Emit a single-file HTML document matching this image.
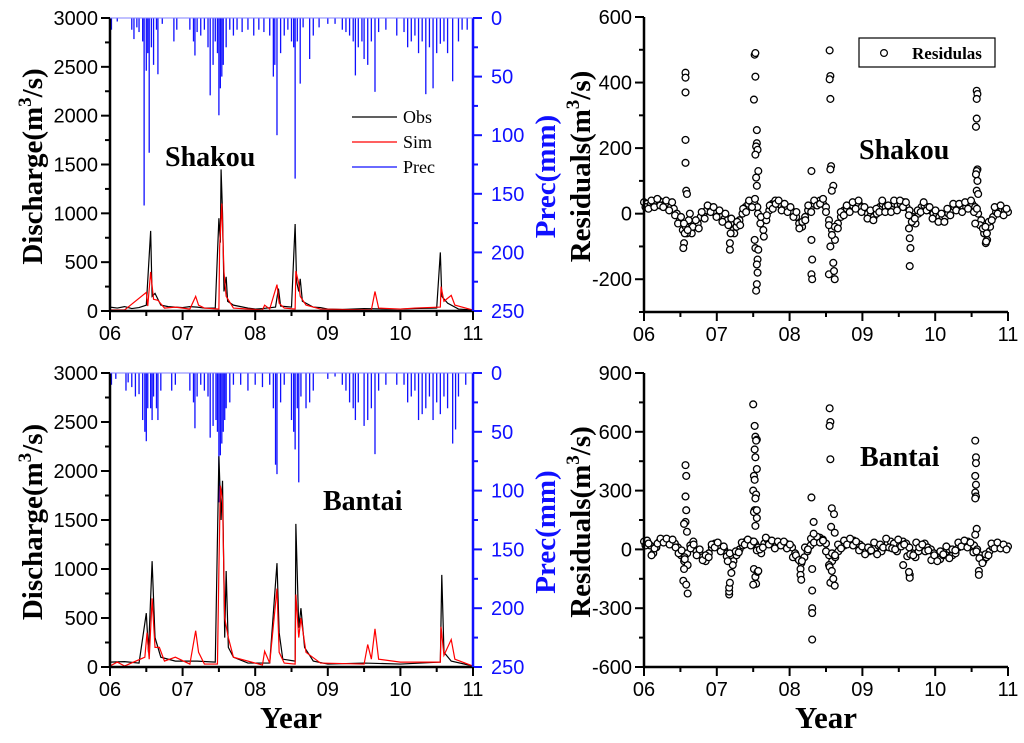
<!DOCTYPE html>
<html><head><meta charset="utf-8"><style>
html,body{margin:0;padding:0;background:#fff;}
svg{display:block;}
.tk{font-family:"Liberation Sans",sans-serif;font-size:20px;}
.ti{font-family:"Liberation Serif",serif;font-weight:bold;}
</style></head><body>
<svg id="fig" width="1024" height="743" viewBox="0 0 1024 743" xmlns="http://www.w3.org/2000/svg"></svg>
<script>
const years = ["06","07","08","09","10","11"];
const qTicks = [0,500,1000,1500,2000,2500,3000];
const pTicks = [0,50,100,150,200,250];
const rTicksTop = [-200,0,200,400,600];
const rTicksBot = [-600,-300,0,300,600,900];

const shakouObsT = [0,0.1,0.2,0.3,0.4,0.5,0.56,0.58,0.62,0.7,0.8,0.9,1.0,1.1,1.2,1.3,1.45,1.5,1.52,1.53,1.55,1.57,1.6,1.62,1.7,1.8,1.9,2.0,2.1,2.28,2.32,2.35,2.5,2.55,2.57,2.6,2.62,2.65,2.8,2.9,3.0,3.2,3.5,3.8,4.0,4.2,4.5,4.55,4.57,4.65,4.8,5];
const shakouObsQ = [40,30,45,25,35,60,820,150,180,60,45,40,35,45,40,30,30,950,700,1450,1000,200,350,100,60,45,30,20,25,40,230,50,40,890,300,200,330,100,40,35,20,15,25,20,20,25,30,600,150,80,20,10];
const shakouSimT = [0,0.2,0.5,0.52,0.56,0.6,0.66,0.75,0.9,1.1,1.18,1.22,1.3,1.5,1.51,1.54,1.57,1.6,1.7,2.1,2.13,2.2,2.3,2.33,2.4,2.55,2.56,2.6,2.62,2.7,2.9,3.6,3.65,3.7,4.0,4.2,4.55,4.56,4.6,4.7,4.75,5];
const shakouSimQ = [10,10,190,50,400,120,110,30,40,20,150,60,30,20,650,1100,400,150,30,10,60,20,270,80,30,20,410,280,150,60,20,10,200,30,20,30,40,250,100,160,60,10];
const bantaiObsT = [0,0.2,0.4,0.5,0.53,0.58,0.62,0.7,0.9,1.2,1.45,1.5,1.53,1.55,1.58,1.6,1.63,1.7,1.9,2.2,2.3,2.33,2.38,2.55,2.56,2.6,2.63,2.68,2.8,3.0,3.5,4.0,4.55,4.57,4.6,4.7,5];
const bantaiObsQ = [50,55,40,550,150,1080,300,100,60,60,50,2150,1500,1900,300,980,200,100,40,40,1060,350,80,60,1460,400,600,200,60,30,40,30,50,940,150,60,10];
const bantaiSimT = [0,0.1,0.2,0.48,0.51,0.54,0.58,0.62,0.68,0.75,0.9,1.1,1.18,1.22,1.3,1.48,1.5,1.52,1.55,1.58,1.63,1.7,2.1,2.13,2.2,2.3,2.33,2.4,2.55,2.56,2.6,2.63,2.7,2.9,3.5,3.55,3.6,3.65,3.7,4.0,4.55,4.56,4.6,4.7,4.75,5];
const bantaiSimQ = [10,50,10,100,350,80,700,200,200,60,100,30,370,150,30,30,1000,1850,1700,500,300,100,20,160,40,800,150,40,30,740,300,500,150,40,30,230,80,390,80,50,50,410,120,280,80,10];

const shakouPrecT = [0.02,0.1,0.3,0.33,0.37,0.4,0.45,0.47,0.5,0.52,0.54,0.57,0.6,0.64,0.66,0.72,0.88,0.92,1.1,1.15,1.17,1.2,1.25,1.3,1.35,1.38,1.42,1.45,1.48,1.5,1.52,1.54,1.56,1.6,1.65,1.7,1.75,1.82,1.9,1.98,2.05,2.12,2.2,2.25,2.27,2.3,2.35,2.4,2.45,2.5,2.53,2.55,2.58,2.62,2.66,2.75,2.8,2.88,3.0,3.1,3.2,3.25,3.3,3.35,3.38,3.42,3.47,3.5,3.55,3.6,3.65,3.7,3.8,3.95,4.05,4.1,4.15,4.2,4.25,4.3,4.35,4.4,4.45,4.5,4.55,4.6,4.65,4.72,4.8,4.85,4.92];
const shakouPrecP = [10,3,10,18,8,12,20,160,45,30,115,25,40,10,48,5,20,10,10,20,32,12,15,10,25,66,40,20,30,83,60,50,40,25,10,15,10,12,10,15,10,12,15,50,40,100,30,15,10,20,25,137,20,56,8,35,15,8,5,5,10,12,15,20,49,25,20,35,40,20,63,12,10,15,12,25,20,15,30,20,65,25,60,30,22,20,30,54,20,10,10];
const bantaiPrecT = [0.02,0.08,0.22,0.25,0.3,0.35,0.4,0.45,0.48,0.5,0.52,0.56,0.58,0.6,0.64,0.66,0.7,0.85,0.9,1.1,1.15,1.17,1.2,1.25,1.3,1.35,1.38,1.42,1.46,1.48,1.5,1.52,1.54,1.56,1.58,1.6,1.65,1.7,1.8,1.9,2.0,2.1,2.2,2.25,2.28,2.3,2.35,2.4,2.5,2.53,2.55,2.58,2.6,2.63,2.7,2.75,2.8,3.0,3.1,3.2,3.25,3.3,3.35,3.38,3.42,3.5,3.55,3.6,3.65,3.7,3.8,3.95,4.05,4.1,4.15,4.2,4.25,4.3,4.35,4.4,4.45,4.5,4.55,4.6,4.65,4.72,4.76,4.8,4.9];
const bantaiPrecP = [10,5,15,8,12,20,18,40,50,58,30,30,40,20,30,40,15,15,10,15,25,47,20,10,15,20,55,45,40,50,110,70,60,50,40,30,25,10,10,15,10,12,10,30,78,86,25,10,40,50,65,30,93,20,30,25,15,5,3,10,15,25,30,40,25,45,40,30,69,15,10,10,10,25,20,15,40,35,30,20,40,25,35,20,30,60,48,20,10];

const shakouResidBase = [35,30,25,35,30,40,35,30,25,20,15,0,-20,-50,-40,-20,-60,-40,-30,-10,0,10,20,10,0,-5,-10,-15,-20,-30,-50,-40,-20,0,20,30,35,30,20,-30,-50,-20,10,30,40,30,25,20,15,10,5,-10,-30,-40,-10,10,20,30,35,40,30,20,-20,-50,-80,-30,-10,10,15,20,25,30,30,20,10,0,-5,-10,0,20,30,20,10,20,30,25,30,35,20,10,-10,-30,0,20,25,20,10,0,-5,-10,-15,-10,0,10,20,25,20,15,20,30,30,20,0,-20,-60,-80,-40,-10,5,10,15,10,5];
const shakouResidBase2 = [20,15,40,20,45,25,20,40,10,35,-5,-30,-10,-30,-60,0,-40,-20,-45,5,-15,25,5,20,-10,10,-25,0,-35,-15,-60,-25,-35,15,5,40,20,45,0,-10,-70,-5,25,15,30,40,10,30,5,20,-10,5,-45,-25,-20,25,5,40,25,30,45,5,-35,-65,-40,-45,5,-5,25,5,35,15,40,5,20,-15,10,-20,15,5,40,5,25,5,40,10,40,20,35,-5,-25,-15,10,5,35,10,20,-15,10,-25,0,-25,15,-5,30,10,30,5,35,15,40,5,15,-35,-45,-90,-25,-20,20,0,25,-5,15];
const shakouOutT = [0.57,0.57,0.57,0.57,0.57,0.58,0.59,0.56,0.55,0.54,0.6,1.18,1.18,1.19,1.52,1.53,1.53,1.51,1.55,1.55,1.54,1.56,1.53,1.57,1.54,1.55,1.52,1.53,1.56,1.55,1.56,1.55,1.54,1.57,2.3,2.3,2.31,2.3,2.31,2.55,2.56,2.55,2.56,2.57,2.56,2.6,2.58,2.56,2.54,2.62,2.61,2.6,3.65,3.66,3.65,3.64,4.57,4.58,4.57,4.57,4.56,4.58,4.57,4.56,4.58,4.57,4.59,4.55,4.7,4.71,4.69];
const shakouOutR = [430,415,370,225,155,70,60,-60,-90,-105,-50,-110,-90,-60,485,490,418,348,255,215,205,195,180,130,110,85,-80,-105,-140,-155,-180,-215,-235,-110,130,-80,-140,-185,-200,498,420,410,350,145,135,85,70,-100,-185,-200,-175,-150,-160,-105,-75,-45,375,365,350,290,265,135,130,120,100,70,60,-30,-85,-60,-40];
const bantaiResidBase = [40,45,20,-20,10,40,50,50,45,40,30,10,-30,-60,-20,20,40,-10,-20,-40,-60,-20,10,30,20,10,0,-20,-40,-60,-30,0,20,40,45,40,30,10,-20,30,50,40,30,20,30,35,30,20,10,-20,-50,-70,-40,-10,20,40,50,60,50,30,-30,-60,-40,-10,10,20,30,40,45,35,25,10,0,-10,-5,10,20,-10,10,30,40,30,-10,20,40,30,10,-20,-40,-10,20,30,10,0,-20,-40,-50,-30,-10,0,-30,-20,10,20,30,40,30,20,0,-30,-60,-40,-10,10,20,20,15,10,15];
const bantaiResidBase2 = [20,30,-30,5,30,55,35,55,25,50,10,-20,-5,-40,-80,5,25,-30,0,-55,-30,-40,25,10,35,-10,15,-35,-20,-80,-10,-15,35,25,50,20,40,-5,0,10,60,25,45,5,40,20,40,5,25,-40,-30,-55,-60,10,0,55,35,65,35,45,-10,-80,-20,-30,25,5,45,25,55,20,40,-5,15,-25,10,-5,35,-25,25,10,55,10,5,0,50,15,25,-35,-25,-30,35,10,25,-10,-5,-55,-30,-60,-10,-25,15,-45,0,-5,35,15,45,10,35,-15,-10,-45,-70,-25,-30,30,5,35,5,25,0];
const bantaiOutT = [0.57,0.58,0.57,0.58,0.57,0.55,0.59,0.56,0.55,0.54,0.58,0.6,1.5,1.52,1.53,1.55,1.54,1.52,1.53,1.55,1.51,1.52,1.5,1.54,1.53,1.52,1.51,1.55,1.53,1.55,1.51,1.53,1.54,1.56,1.5,1.57,1.17,1.17,1.17,1.18,1.2,1.15,2.3,2.33,2.33,2.31,2.31,2.31,2.31,2.31,2.55,2.56,2.55,2.56,2.58,2.61,2.57,2.62,2.55,2.58,2.56,2.62,2.6,2.15,2.15,2.16,3.56,3.65,3.65,3.64,4.55,4.56,4.56,4.55,4.56,4.55,4.56,4.55,4.57,4.55,4.6,4.6];
const bantaiOutR = [430,375,270,200,140,130,90,-50,-100,-160,-180,-225,740,630,575,560,555,510,470,410,375,355,300,280,260,200,190,160,120,200,-100,-140,-175,-115,-180,-110,-230,-215,-195,-170,-120,-60,265,140,80,-100,-210,-300,-325,-460,720,650,630,460,210,180,115,85,-90,-110,-170,-185,-150,-100,-130,-155,-80,-130,-145,-115,555,470,440,375,330,290,270,260,105,75,-110,-130];

const NS = "http://www.w3.org/2000/svg";
const fig = document.getElementById('fig');
function mk(tag, attrs, parent, text) {
  const e = document.createElementNS(NS, tag);
  for (const k in attrs) e.setAttribute(k, attrs[k]);
  if (text !== undefined) e.textContent = text;
  (parent || fig).appendChild(e);
  return e;
}

function xAxis(g, x0, x1, yb) {
  const sx = t => x0 + (x1 - x0) * t / 5;
  for (let i = 0; i <= 10; i++) {
    const len = i % 2 === 0 ? 9 : 5;
    mk('line', {x1: sx(i / 2), x2: sx(i / 2), y1: yb, y2: yb + len, stroke: '#000', 'stroke-width': 2}, g);
  }
  years.forEach((y, i) => {
    const t = mk('text', {x: sx(i), y: yb + 29, 'text-anchor': 'middle', class: 'tk'}, g, y);
    
    
  });
  return sx;
}

function dischargePanel(name, y0, y1, obsT, obsQ, simT, simQ, pT, pP) {
  const x0 = 110, x1 = 473;
  const g = mk('g', {});
  
  
  const sy = v => y1 - (y1 - y0) * v / 3000;
  const sp = v => y0 + (y1 - y0) * v / 250;
  const sx = t => x0 + (x1 - x0) * t / 5;
  const pg = mk('g', {}, g);
  
  
  pT.forEach((t, i) => {
    const b = mk('line', {x1: sx(t), x2: sx(t), y1: sp(0), y2: sp(pP[i]), stroke: '#1010ff', 'stroke-width': 1.3}, pg);
    
    
  });
  const obs = mk('polyline', {points: obsT.map((t, i) => sx(t) + ',' + sy(obsQ[i])).join(' '), fill: 'none', stroke: '#000', 'stroke-width': 1.2}, g);
  
  
  const sim = mk('polyline', {points: simT.map((t, i) => sx(t) + ',' + sy(simQ[i])).join(' '), fill: 'none', stroke: '#ff0000', 'stroke-width': 1.2}, g);
  
  
  mk('line', {x1: x0, x2: x0, y1: y0, y2: y1, stroke: '#000', 'stroke-width': 2.5}, g);
  mk('line', {x1: x0, x2: x1, y1: y1, y2: y1, stroke: '#000', 'stroke-width': 2.5}, g);
  mk('line', {x1: x1, x2: x1, y1: y0, y2: y1, stroke: '#1010ff', 'stroke-width': 2.5}, g);
  mk('line', {x1: x0, x2: x1, y1: y0, y2: y0, stroke: '#8080ff', 'stroke-width': 1}, g);
  for (let v = 0; v <= 3000; v += 250) {
    const len = v % 500 === 0 ? 9 : 5;
    mk('line', {x1: x0 - len, x2: x0, y1: sy(v), y2: sy(v), stroke: '#000', 'stroke-width': 2}, g);
  }
  qTicks.forEach(v => {
    const t = mk('text', {x: x0 - 12, y: sy(v) + 7, 'text-anchor': 'end', class: 'tk'}, g, String(v));
    
    
  });
  for (let v = 0; v <= 250; v += 25) {
    const len = v % 50 === 0 ? 9 : 5;
    mk('line', {x1: x1, x2: x1 + len, y1: sp(v), y2: sp(v), stroke: '#1010ff', 'stroke-width': 2}, g);
  }
  pTicks.forEach(v => {
    const t = mk('text', {x: x1 + 18, y: sp(v) + 7, class: 'tk', fill: '#1010ff'}, g, String(v));
    
    
  });
  xAxis(g, x0, x1, y1);
  const cy = (y0 + y1) / 2 + 2;
  const yt = mk('text', {x: 0, y: 0, transform: `translate(42,${cy}) rotate(-90)`, 'text-anchor': 'middle', class: 'ti', 'font-size': 29}, g);
  
  
  yt.innerHTML = 'Discharge(m<tspan dy="-11" font-size="19">3</tspan><tspan dy="11">/s)</tspan>';
  const pt = mk('text', {x: 0, y: 0, transform: `translate(555,${cy + 10}) rotate(-90)`, 'text-anchor': 'middle', class: 'ti', 'font-size': 29, fill: '#1010ff'}, g, 'Prec(mm)');
  
  
}

function residPanel(name, y0, y1, vmin, vmax, ticks, minorStep, base, base2, outT, outR) {
  const x0 = 644, x1 = 1008;
  const g = mk('g', {});
  
  
  const sy = v => y1 - (y1 - y0) * (v - vmin) / (vmax - vmin);
  const sx = t => x0 + (x1 - x0) * t / 5;
  const pg = mk('g', {}, g);
  
  
  const drawPt = (t, v) => {
    const c = mk('circle', {cx: sx(t), cy: sy(v), r: 3.4, fill: '#fff', stroke: '#000', 'stroke-width': 1.3}, pg);
    
    
  };
  base.forEach((v, i) => drawPt(5 * i / (base.length - 1), v));
  base2.forEach((v, i) => drawPt(5 * (i + 0.5) / (base2.length), v));
  outT.forEach((t, i) => drawPt(t, outR[i]));
  mk('line', {x1: x0, x2: x0, y1: y0, y2: y1, stroke: '#000', 'stroke-width': 2.5}, g);
  mk('line', {x1: x0, x2: x1, y1: y1, y2: y1, stroke: '#000', 'stroke-width': 2.5}, g);
  for (let v = vmin; v <= vmax; v += minorStep) {
    const len = ticks.indexOf(v) >= 0 ? 9 : 5;
    mk('line', {x1: x0 - len, x2: x0, y1: sy(v), y2: sy(v), stroke: '#000', 'stroke-width': 2}, g);
  }
  ticks.forEach(v => {
    const t = mk('text', {x: x0 - 12, y: sy(v) + 7, 'text-anchor': 'end', class: 'tk'}, g, String(v));
    
    
  });
  xAxis(g, x0, x1, y1);
  const cy = (y0 + y1) / 2 + 2;
  const yt = mk('text', {x: 0, y: 0, transform: `translate(590,${cy}) rotate(-90)`, 'text-anchor': 'middle', class: 'ti', 'font-size': 29}, g);
  
  
  yt.innerHTML = 'Residuals(m<tspan dy="-11" font-size="19">3</tspan><tspan dy="11">/s)</tspan>';
}

dischargePanel('shakou', 18, 311, shakouObsT, shakouObsQ, shakouSimT, shakouSimQ, shakouPrecT, shakouPrecP);
dischargePanel('bantai', 373, 667, bantaiObsT, bantaiObsQ, bantaiSimT, bantaiSimQ, bantaiPrecT, bantaiPrecP);
residPanel('shakou', 17, 312, -300, 600, rTicksTop, 100, shakouResidBase, shakouResidBase2, shakouOutT, shakouOutR);
residPanel('bantai', 373, 667, -600, 900, rTicksBot, 150, bantaiResidBase, bantaiResidBase2, bantaiOutT, bantaiOutR);

const lg = mk('g', {});


[['Obs', '#000', 117], ['Sim', '#ff0000', 142], ['Prec', '#1010ff', 167]].forEach(([lab, col, y]) => {
  mk('line', {x1: 352, x2: 397, y1: y, y2: y, stroke: col, 'stroke-width': 1.3}, lg);
  const t = mk('text', {x: 403, y: y + 6, 'font-family': '"Liberation Serif",serif', 'font-size': 18}, lg, lab);
  
  
});
const rl = mk('g', {});


mk('rect', {x: 859, y: 38, width: 136, height: 29, fill: '#fff', stroke: '#000', 'stroke-width': 1.2}, rl);
mk('circle', {cx: 884, cy: 53, r: 3.4, fill: '#fff', stroke: '#000', 'stroke-width': 1.2}, rl);
const rlt = mk('text', {x: 912, y: 59, class: 'ti', 'font-size': 17}, rl, 'Residulas');



[['Shakou', 165, 166], ['Shakou', 859, 159], ['Bantai', 323, 510], ['Bantai', 860, 466]].forEach(([s, x, y]) => {
  const t = mk('text', {x: x, y: y, class: 'ti', 'font-size': 28}, fig, s);
  
  
});
[[291], [826]].forEach(([x]) => {
  const t = mk('text', {x: x, y: 728, 'text-anchor': 'middle', class: 'ti', 'font-size': 31}, fig, 'Year');
  
  
});
</script>
</body></html>
